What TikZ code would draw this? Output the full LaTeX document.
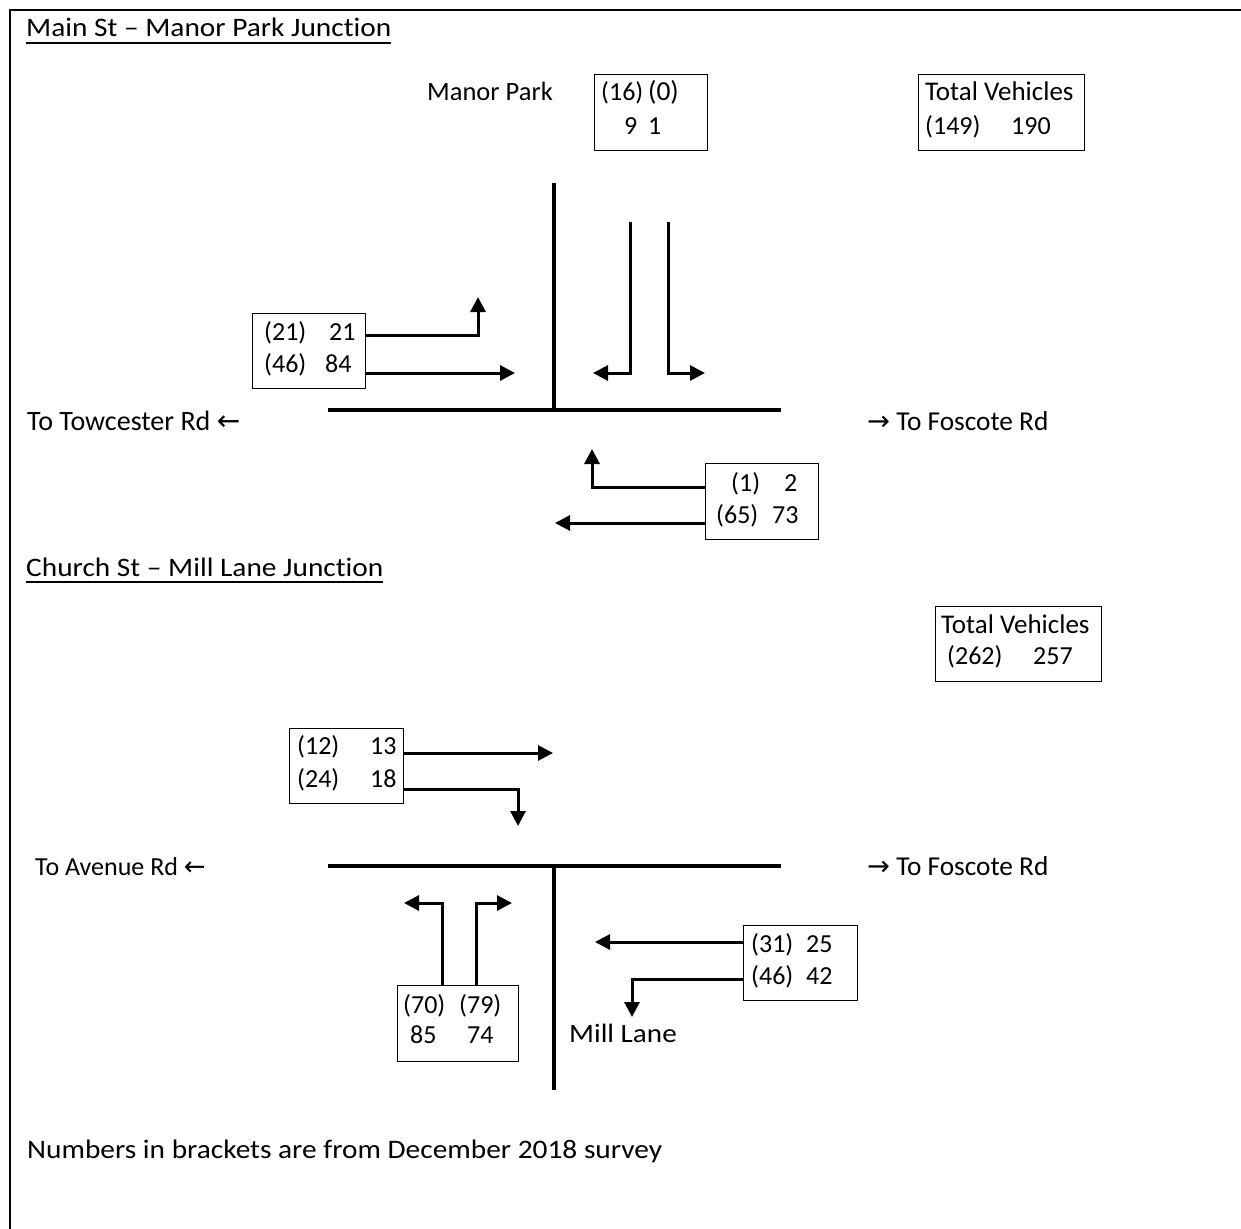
\documentclass[tikz,border=0pt]{standalone}
\usepackage{fontspec}
\setmainfont{Carlito}[Ligatures=NoCommon]
\newfontfamily\widefont[FakeStretch=1.1,Ligatures=NoCommon]{Carlito}
\newfontfamily\arrowfont{DejaVu Sans}
\usetikzlibrary{arrows.meta}
\newcommand\ulx[1]{\setbox0\hbox{#1}\rlap{\rule[-7.2pt]{\wd0}{1.8pt}}\box0}
\begin{document}
\begin{tikzpicture}[x=1pt,y=-1pt,
  txt/.style={inner sep=0pt, anchor=base west, font=\fontsize{26}{30}\selectfont},
  wtxt/.style={inner sep=0pt, anchor=base west, font=\widefont\fontsize{26.7}{30}\selectfont},
  tbox/.style={draw, line width=1pt, inner sep=0pt, rectangle},
  road/.style={line width=4.5pt},
  flow/.style={line width=3pt, -{Triangle[length=15pt,width=15pt]}}]
\fill[white] (0,0) rectangle (1241,1228);
\useasboundingbox (0,0) rectangle (1241,1228);
% frame
\coordinate (fbl) at (10,1240);
\coordinate (ftl) at (10,10);
\coordinate (ftr) at (1260,10);
\draw[line width=2pt] (fbl) -- (ftl) -- (ftr);

% ---------- Junction 1 ----------
\node[wtxt] (title1) at (26,37) {\ulx{Main St – Manor Park Junction}};
\node[txt, font=\fontsize{26.5}{30}\selectfont] (manor) at (427,101) {Manor Park};

\node[tbox, minimum width=113pt, minimum height=75pt] (b16) at (650.5,112.5) {};
\node[txt] (b16a) at (601,101) {(16)};
\node[txt, font=\fontsize{27.5}{30}\selectfont] (b16b) at (648,101) {(0)};
\node[txt] (b16c) at (624,135) {9};
\node[txt] (b16d) at (648,135) {1};

\node[tbox, minimum width=166pt, minimum height=75pt] (tv1) at (1001,112.5) {};
\node[txt, font=\fontsize{27}{30}\selectfont] (tv1a) at (925,101) {Total Vehicles};
\node[txt] (tv1b) at (925,135) {(149)};
\node[txt] (tv1c) at (1011,135) {190};

% roads
\coordinate (r1w) at (328,410);
\coordinate (r1e) at (781,410);
\coordinate (r1n) at (554,183);
\coordinate (r1c) at (554,410);
\draw[road] (r1w) -- (r1e);
\draw[road] (r1n) -- (r1c);

% southbound lanes
\coordinate (l1) at (630,222); \coordinate (l1c) at (630,373); \coordinate (l1t) at (593,373);
\coordinate (l2) at (668,222); \coordinate (l2c) at (668,373); \coordinate (l2t) at (705,373);
\draw[flow] (l1) -- (l1c) -- (l1t);
\draw[flow] (l2) -- (l2c) -- (l2t);

% west box
\node[tbox, minimum width=113pt, minimum height=75pt] (b21) at (308.5,350.5) {};
\node[txt] (b21a) at (264,340) {(21)};
\node[txt] (b21b) at (329,340) {21};
\node[txt] (b21c) at (264,372) {(46)};
\node[txt] (b21d) at (325,372) {84};
\coordinate (a1) at (478,335); \coordinate (a1t) at (478,297);
\coordinate (a2t) at (515,373);
\draw[flow] (b21.east |- a1) -- (a1) -- (a1t);
\draw[flow] (b21.east |- a2t) -- (a2t);

% east box
\node[tbox, minimum width=113pt, minimum height=76pt] (b1) at (761.5,501) {};
\node[txt] (b1a) at (731,491) {(1)};
\node[txt] (b1b) at (784,491) {2};
\node[txt] (b1c) at (716,523) {(65)};
\node[txt] (b1d) at (772,523) {73};
\coordinate (a3) at (592,487); \coordinate (a3t) at (592,449);
\coordinate (a4t) at (555,523);
\draw[flow] (b1.west |- a3) -- (a3) -- (a3t);
\draw[flow] (b1.west |- a4t) -- (a4t);

\node[txt, font=\fontsize{28}{30}\selectfont] (tow) at (27,430) {To Towcester Rd {\arrowfont ←}};
\node[txt, font=\fontsize{27.3}{30}\selectfont] (fos1) at (867,430) {{\arrowfont →} To Foscote Rd};

% ---------- Junction 2 ----------
\node[wtxt] (title2) at (26,576) {\ulx{Church St – Mill Lane Junction}};

\node[tbox, minimum width=166pt, minimum height=75pt] (tv2) at (1018,643.5) {};
\node[txt, font=\fontsize{27}{30}\selectfont] (tv2a) at (941,633) {Total Vehicles};
\node[txt] (tv2b) at (947,664) {(262)};
\node[txt] (tv2c) at (1033,664) {257};

\node[tbox, minimum width=114pt, minimum height=75pt] (b12) at (346,765.5) {};
\node[txt] (b12a) at (297,754) {(12)};
\node[txt] (b12b) at (370,754) {13};
\node[txt] (b12c) at (297,787) {(24)};
\node[txt] (b12d) at (370,787) {18};
\coordinate (a5t) at (553,753);
\coordinate (a6) at (518,789); \coordinate (a6t) at (518,826);
\draw[flow] (b12.east |- a5t) -- (a5t);
\draw[flow] (b12.east |- a6) -- (a6) -- (a6t);

\coordinate (r2w) at (328,866);
\coordinate (r2e) at (781,866);
\coordinate (r2c) at (554,866);
\coordinate (r2s) at (554,1090);
\draw[road] (r2w) -- (r2e);
\draw[road] (r2c) -- (r2s);

\node[txt] (ave) at (35,875) {To Avenue Rd {\arrowfont ←}};
\node[txt, font=\fontsize{27.3}{30}\selectfont] (fos2) at (867,875) {{\arrowfont →} To Foscote Rd};

\node[tbox, minimum width=121pt, minimum height=76pt] (b70) at (457.5,1023) {};
\node[txt] (b70a) at (403,1013) {(70)};
\node[txt] (b70b) at (459,1013) {(79)};
\node[txt] (b70c) at (410,1043) {85};
\node[txt] (b70d) at (467,1043) {74};
\coordinate (a7) at (442,903); \coordinate (a7t) at (404,903);
\coordinate (a8) at (476,903); \coordinate (a8t) at (512,903);
\draw[flow] (b70.north -| a7) -- (a7) -- (a7t);
\draw[flow] (b70.north -| a8) -- (a8) -- (a8t);

\node[tbox, minimum width=114pt, minimum height=75pt] (b31) at (800,962.5) {};
\node[txt] (b31a) at (751,952) {(31)};
\node[txt] (b31b) at (806,952) {25};
\node[txt] (b31c) at (751,984) {(46)};
\node[txt] (b31d) at (806,984) {42};
\coordinate (a9t) at (595,942);
\coordinate (a10) at (632,979); \coordinate (a10t) at (632,1017);
\draw[flow] (b31.west |- a9t) -- (a9t);
\draw[flow] (b31.west |- a10) -- (a10) -- (a10t);

\node[wtxt, font=\widefont\fontsize{26.5}{30}\selectfont] (mill) at (569,1042) {Mill Lane};

\node[wtxt] (foot) at (27,1158) {Numbers in brackets are from December 2018 survey};
\end{tikzpicture}
\end{document}
